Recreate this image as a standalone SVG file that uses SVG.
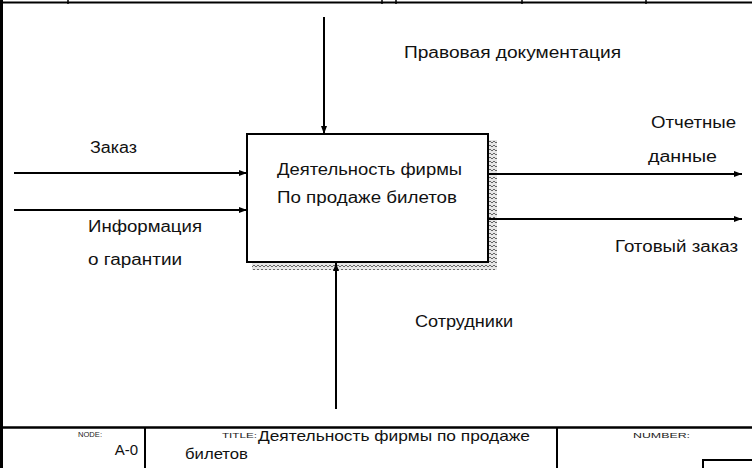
<svg xmlns="http://www.w3.org/2000/svg" width="752" height="468" viewBox="0 0 752 468">
  <style>
    .lbl { font-family: "Liberation Sans", Arial, sans-serif; font-size: 16px; fill: #111; }
    .small { font-family: "Liberation Sans", Arial, sans-serif; font-size: 8px; fill: #222; }
    .ttl { font-family: "Liberation Sans", Arial, sans-serif; font-size: 15px; fill: #111; }
    .frame { stroke: #000; fill: none; }
    .conn { stroke: #000; stroke-width: 2; fill: none; }
  </style>
  <defs>
    <marker id="arr" markerUnits="userSpaceOnUse" markerWidth="9" markerHeight="8" refX="8" refY="4" orient="auto">
      <path d="M0,1 L8,4 L0,7 z" fill="#000"/>
    </marker>
    <pattern id="hatch" patternUnits="userSpaceOnUse" width="4" height="4">
      <rect width="4" height="4" fill="#e6e6e6"/>
      <path d="M0,3 L2,1 L4,3" stroke="#666" stroke-width="1" fill="none"/>
    </pattern>
  </defs>
  <rect width="752" height="468" fill="#fff"/>

  <g id="frame">
    <line class="frame" x1="1.5" y1="0" x2="1.5" y2="468" stroke-width="3"/>
    <line class="frame" x1="0" y1="2.5" x2="752" y2="2.5" stroke-width="2"/>
    <line class="frame" x1="68" y1="0" x2="68" y2="4" stroke-width="1.5"/>
    <line class="frame" x1="382" y1="0" x2="382" y2="4" stroke-width="1.5"/>
    <line class="frame" x1="396" y1="0" x2="396" y2="4" stroke-width="1.5"/>
    <line class="frame" x1="522" y1="0" x2="522" y2="4" stroke-width="1.5"/>
    <line class="frame" x1="646" y1="0" x2="646" y2="4" stroke-width="1.5"/>
    <line class="frame" x1="0" y1="427.5" x2="752" y2="427.5" stroke-width="2.5"/>
    <line class="frame" x1="145" y1="427" x2="145" y2="468" stroke-width="2"/>
    <line class="frame" x1="557" y1="427" x2="557" y2="468" stroke-width="2"/>
    <rect class="frame" x="703" y="460" width="60" height="20" stroke-width="2"/>
    <text class="small" x="78" y="437" textLength="24" lengthAdjust="spacingAndGlyphs">NODE:</text>
    <text class="ttl" x="138" y="455" text-anchor="end">A-0</text>
    <text class="small" x="222" y="438" textLength="35" lengthAdjust="spacingAndGlyphs">TITLE:</text>
    <text class="ttl" x="258" y="441" textLength="272" lengthAdjust="spacingAndGlyphs">Деятельность  фирмы  по  продаже</text>
    <text class="ttl" x="185" y="459" textLength="63" lengthAdjust="spacingAndGlyphs">билетов</text>
    <text class="small" x="633" y="438" textLength="57" lengthAdjust="spacingAndGlyphs">NUMBER:</text>
  </g>

  <g id="node-A0">
    <rect x="489" y="140" width="8" height="130" fill="url(#hatch)"/>
    <rect x="252" y="263" width="245" height="7" fill="url(#hatch)"/>
    <rect x="247" y="134" width="241" height="128" fill="#fff" stroke="#000" stroke-width="2"/>
    <text class="lbl" x="277" y="175" textLength="185" lengthAdjust="spacingAndGlyphs">Деятельность фирмы</text>
    <text class="lbl" x="277" y="203" textLength="180" lengthAdjust="spacingAndGlyphs">По продаже билетов</text>
  </g>

  <g id="connectors">
    <path class="conn" d="M324,17 V134" marker-end="url(#arr)"/>
    <path class="conn" d="M14,173 H247" marker-end="url(#arr)"/>
    <path class="conn" d="M14,210 H247" marker-end="url(#arr)"/>
    <path class="conn" d="M489,174 H742" marker-end="url(#arr)"/>
    <path class="conn" d="M489,219 H742" marker-end="url(#arr)"/>
    <path class="conn" d="M336,409 V263" marker-end="url(#arr)"/>
  </g>

  <g id="labels">
    <text class="lbl" x="404" y="58" textLength="217" lengthAdjust="spacingAndGlyphs">Правовая  документация</text>
    <text class="lbl" x="90" y="153" textLength="47" lengthAdjust="spacingAndGlyphs">Заказ</text>
    <text class="lbl" x="88" y="232" textLength="114" lengthAdjust="spacingAndGlyphs">Информация</text>
    <text class="lbl" x="88" y="265" textLength="94" lengthAdjust="spacingAndGlyphs">о гарантии</text>
    <text class="lbl" x="651" y="128" textLength="85" lengthAdjust="spacingAndGlyphs">Отчетные</text>
    <text class="lbl" x="648" y="162" textLength="69" lengthAdjust="spacingAndGlyphs">данные</text>
    <text class="lbl" x="615" y="252" textLength="123" lengthAdjust="spacingAndGlyphs">Готовый заказ</text>
    <text class="lbl" x="415" y="327" textLength="98" lengthAdjust="spacingAndGlyphs">Сотрудники</text>
  </g>
</svg>
